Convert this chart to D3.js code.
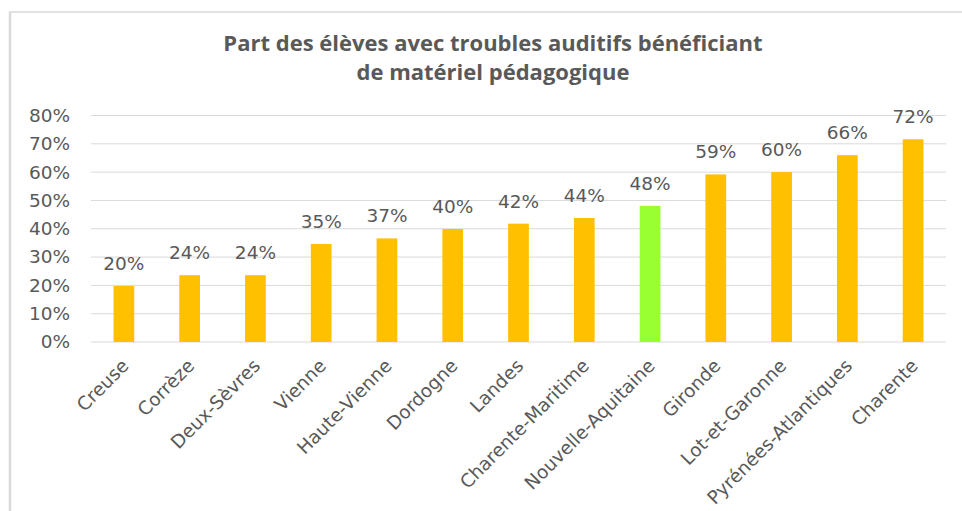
<!DOCTYPE html>
<html>
<head>
<meta charset="utf-8">
<script src="https://cdn.jsdelivr.net/npm/d3@7"></script>
<style>
  body { margin: 0; background: #fff; }
  svg { display: block; }
</style>
</head>
<body>
<div id="chart"></div>
<script>
// chart data
const departements = ["Creuse", "Corrèze", "Deux-Sèvres", "Vienne", "Haute-Vienne", "Dordogne", "Landes",
  "Charente-Maritime", "Nouvelle-Aquitaine", "Gironde", "Lot-et-Garonne", "Pyrénées-Atlantiques", "Charente"];
const parts = [0.198, 0.236, 0.236, 0.346, 0.366, 0.399, 0.418, 0.438, 0.481, 0.592, 0.600, 0.660, 0.716];
const yTicks = [0, 0.1, 0.2, 0.3, 0.4, 0.5, 0.6, 0.7, 0.8];
const highlight = "Nouvelle-Aquitaine";

const width = 962, height = 511;
const margin = { top: 115.5, left: 91, right: 16, bottom: 169 };
const font = "'DejaVu Sans', 'Open Sans', sans-serif";
const textColor = "#595959";

const svg = d3.select("#chart").append("svg")
  .attr("width", width)
  .attr("height", height);

// frame (only top and left edges show)
svg.append("line").attr("x1", 9).attr("x2", width).attr("y1", 12).attr("y2", 12)
  .attr("stroke", "#d9d9d9").attr("stroke-width", 1.5);
svg.append("line").attr("x1", 10).attr("x2", 10).attr("y1", 12).attr("y2", height)
  .attr("stroke", "#d9d9d9").attr("stroke-width", 2.5);

// title
const title = svg.append("text")
  .attr("text-anchor", "middle")
  .attr("font-family", "'Open Sans', sans-serif")
  .attr("font-weight", "bold")
  .attr("font-size", 22)
  .attr("fill", textColor);
title.append("tspan").attr("x", 493).attr("y", 51).text("Part des élèves avec troubles auditifs bénéficiant");
title.append("tspan").attr("x", 493).attr("y", 80).text("de matériel pédagogique");

const x = d3.scaleBand()
  .domain(departements)
  .range([margin.left, width - margin.right])
  .paddingInner(0.685)
  .paddingOuter(0.3425);

const y = d3.scaleLinear()
  .domain([0, 0.8])
  .range([height - margin.bottom, margin.top]);

// gridlines
svg.append("g")
  .selectAll("line")
  .data(yTicks)
  .join("line")
  .attr("x1", margin.left)
  .attr("x2", width - margin.right)
  .attr("y1", d => y(d))
  .attr("y2", d => y(d))
  .attr("stroke", "#d9d9d9")
  .attr("stroke-width", 1);

// y axis labels
const yAxis = svg.append("g")
  .attr("transform", `translate(${margin.left}, 0)`)
  .call(d3.axisLeft(y).tickValues(yTicks).tickFormat(d3.format(".0%")).tickSize(0).tickPadding(21));
yAxis.select(".domain").remove();
yAxis.selectAll("text")
  .attr("font-family", font)
  .attr("font-size", 18.5)
  .attr("fill", textColor);

// bars
svg.append("g")
  .selectAll("rect")
  .data(departements)
  .join("rect")
  .attr("x", d => x(d))
  .attr("width", x.bandwidth())
  .attr("y", (d, i) => y(parts[i]))
  .attr("height", (d, i) => y(0) - y(parts[i]))
  .attr("fill", d => d === highlight ? "#99ff33" : "#ffc000");

// value labels
svg.append("g")
  .selectAll("text")
  .data(departements)
  .join("text")
  .attr("x", d => x(d) + x.bandwidth() / 2)
  .attr("y", (d, i) => y(parts[i]) - 16)
  .attr("text-anchor", "middle")
  .attr("font-family", font)
  .attr("font-size", 18.5)
  .attr("fill", textColor)
  .text((d, i) => d3.format(".0%")(parts[i]));

// x axis labels, rotated
const xAxis = svg.append("g")
  .attr("transform", `translate(0, ${y(0)})`)
  .call(d3.axisBottom(x).tickSize(0).tickPadding(0));
xAxis.select(".domain").remove();
xAxis.selectAll("text")
  .attr("font-family", font)
  .attr("font-size", 18.5)
  .attr("fill", textColor)
  .attr("text-anchor", "end")
  .attr("dy", 0)
  .attr("transform", "translate(6, 25) rotate(-45)");
</script>
</body>
</html>
